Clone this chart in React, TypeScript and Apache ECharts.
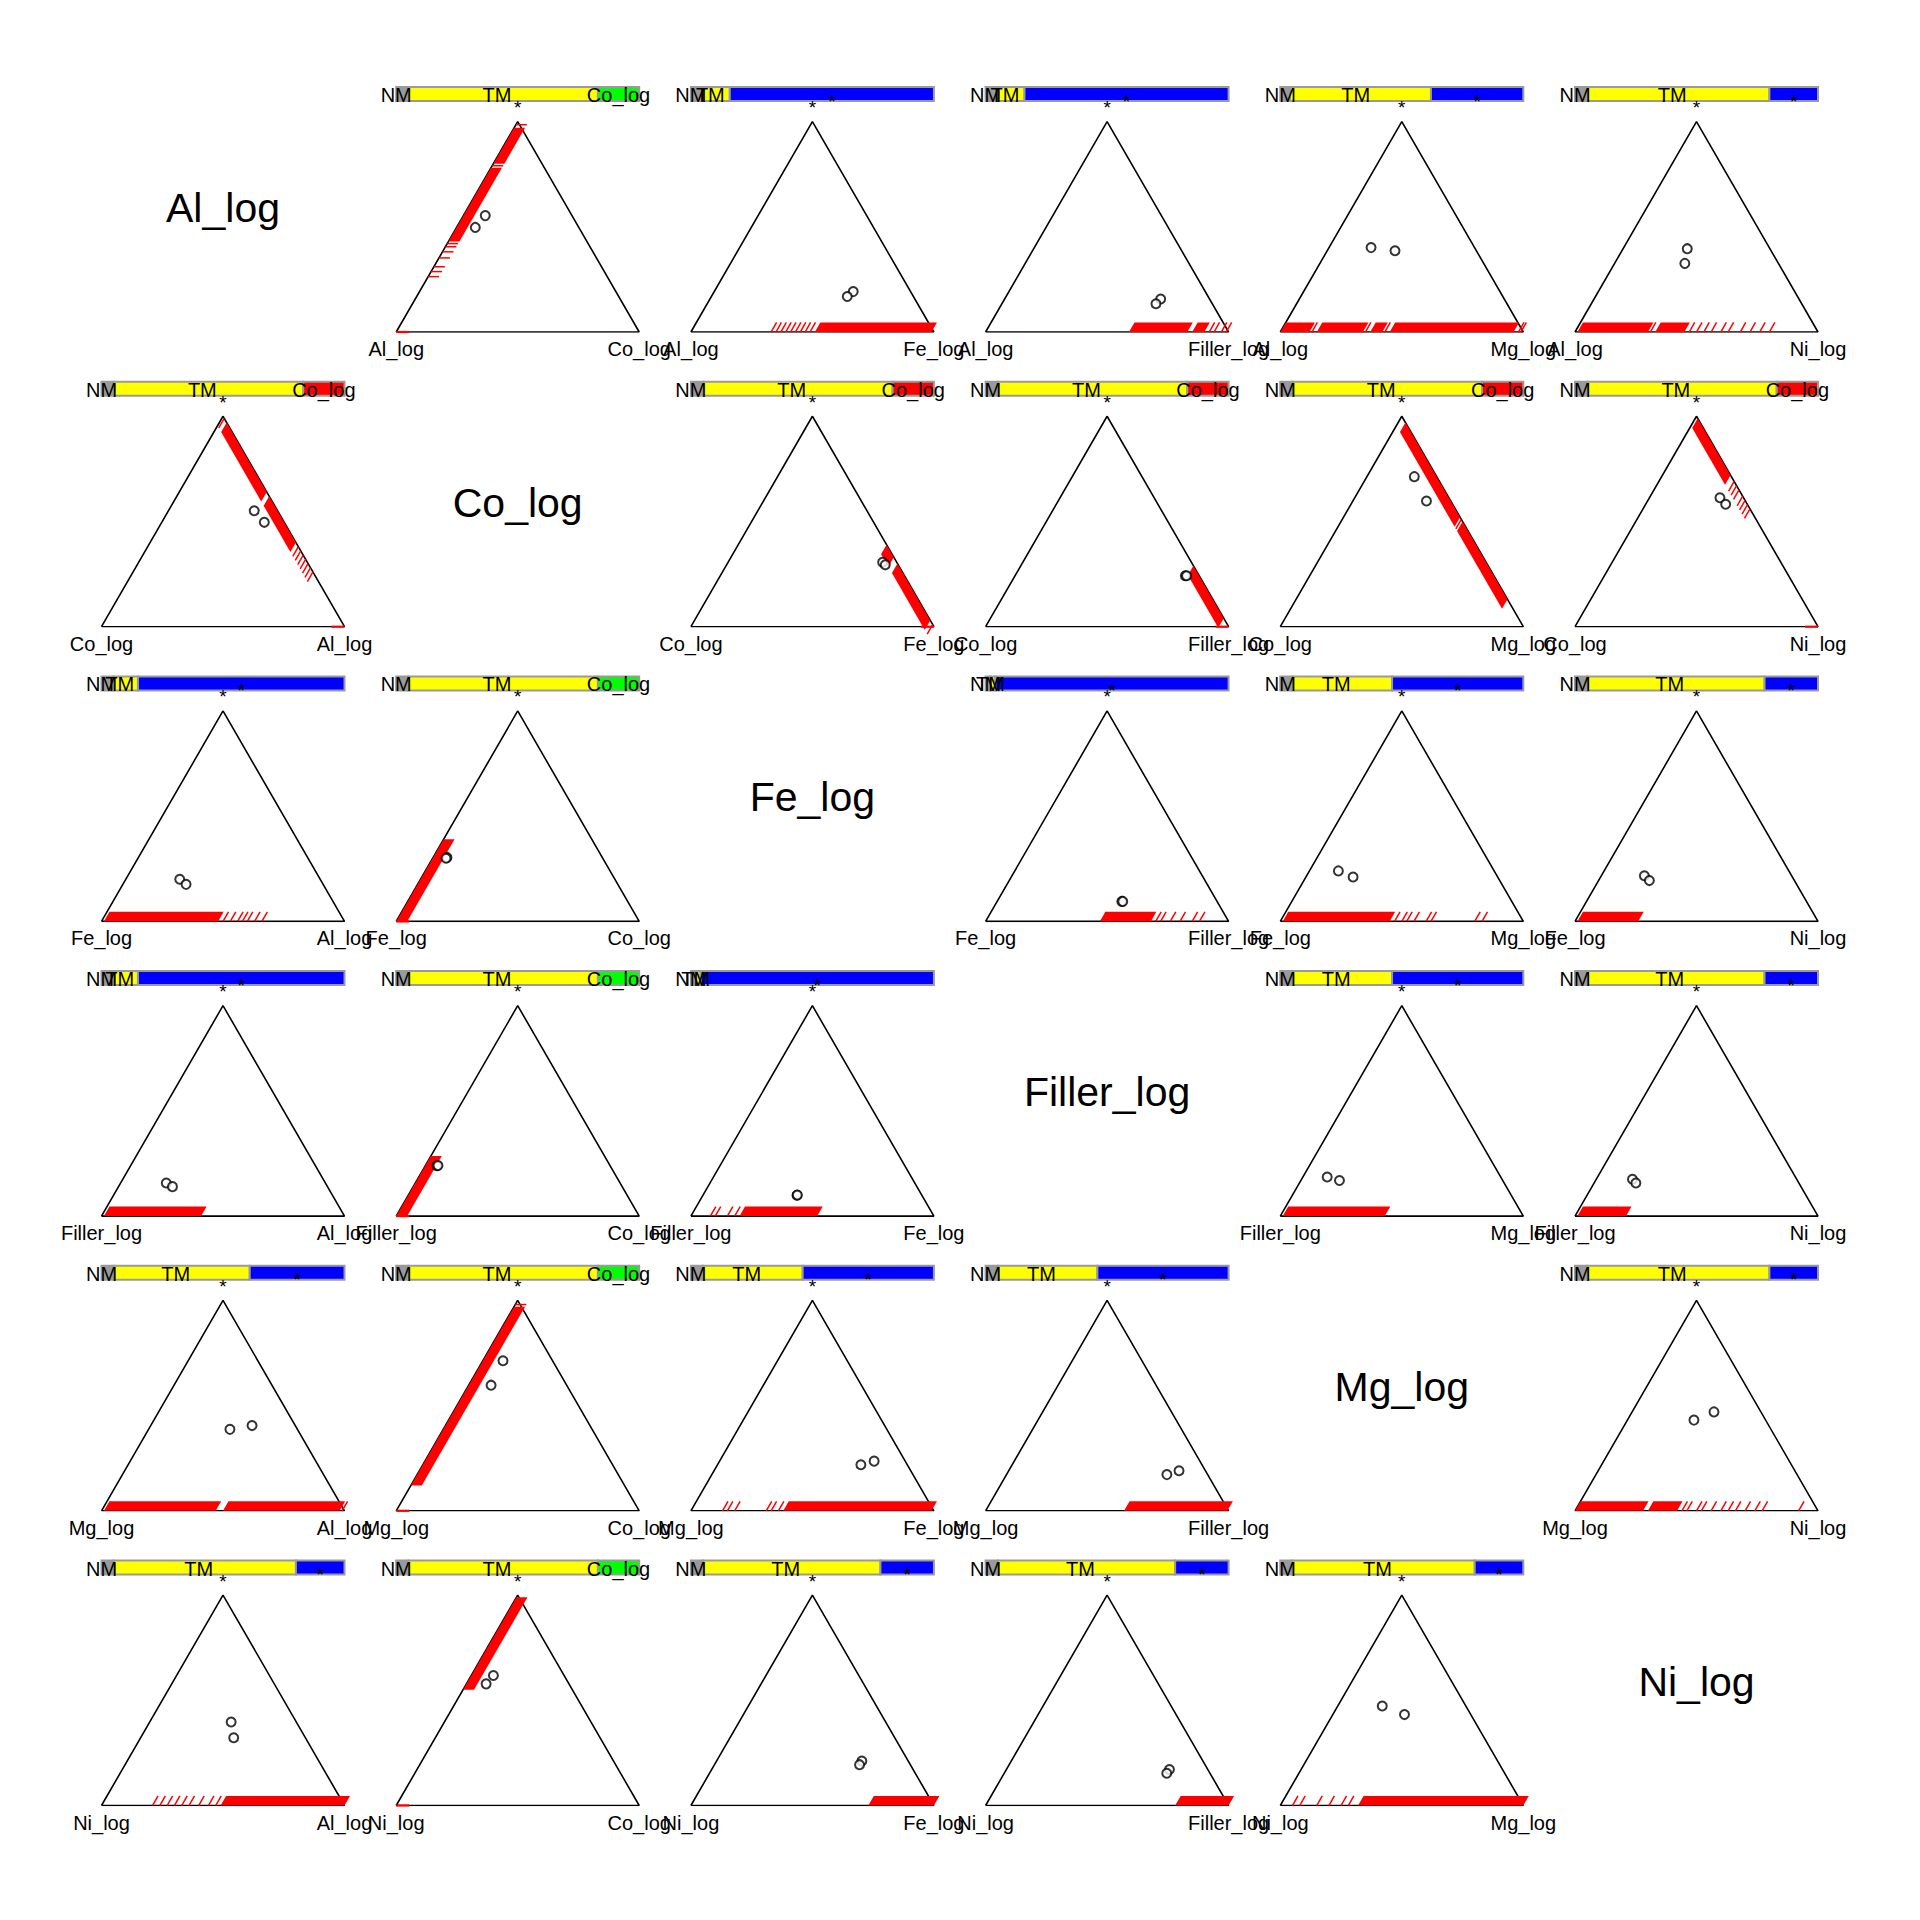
import React, { useEffect, useRef } from "react";
import * as echarts from "echarts";

// ---------------- data ----------------
const VARIABLES = ["Al_log", "Co_log", "Fe_log", "Filler_log", "Mg_log", "Ni_log"];
const BAR_LABELS = ["NM", "TM"];
const MARGIN_LABEL = "*";

// off-diagonal panels, row-major
const PANEL_ROWS = [0, 0, 0, 0, 0, 1, 1, 1, 1, 1, 2, 2, 2, 2, 2, 3, 3, 3, 3, 3, 4, 4, 4, 4, 4, 5, 5, 5, 5, 5];
const PANEL_COLS = [1, 2, 3, 4, 5, 0, 2, 3, 4, 5, 0, 1, 3, 4, 5, 0, 1, 2, 4, 5, 0, 1, 2, 3, 5, 0, 1, 2, 3, 4];

// two observations per panel, as (left part, right part, margin *) compositions
const circleComps = [
  [[0.357, 0.09, 0.553], [0.426, 0.077, 0.497]],
  [[0.236, 0.572, 0.192], [0.272, 0.559, 0.169]],
  [[0.201, 0.642, 0.157], [0.232, 0.634, 0.134]],
  [[0.426, 0.173, 0.401], [0.335, 0.279, 0.386]],
  [[0.34, 0.264, 0.396], [0.385, 0.289, 0.326]],
  [[0.096, 0.353, 0.551], [0.082, 0.422, 0.496]],
  [[0.058, 0.636, 0.306], [0.053, 0.653, 0.294]],
  [[0.057, 0.701, 0.242], [0.052, 0.706, 0.242]],
  [[0.092, 0.195, 0.713], [0.096, 0.303, 0.597]],
  [[0.097, 0.29, 0.613], [0.091, 0.329, 0.582]],
  [[0.578, 0.222, 0.2], [0.564, 0.26, 0.176]],
  [[0.639, 0.057, 0.304], [0.645, 0.055, 0.3]],
  [[0.392, 0.513, 0.095], [0.388, 0.517, 0.095]],
  [[0.641, 0.119, 0.24], [0.595, 0.194, 0.211]],
  [[0.606, 0.177, 0.217], [0.597, 0.209, 0.194]],
  [[0.655, 0.188, 0.157], [0.638, 0.222, 0.14]],
  [[0.713, 0.048, 0.239], [0.708, 0.052, 0.24]],
  [[0.514, 0.387, 0.099], [0.512, 0.388, 0.1]],
  [[0.714, 0.1, 0.186], [0.672, 0.159, 0.169]],
  [[0.676, 0.149, 0.175], [0.671, 0.172, 0.157]],
  [[0.278, 0.335, 0.387], [0.178, 0.417, 0.405]],
  [[0.204, 0.083, 0.713], [0.311, 0.092, 0.597]],
  [[0.191, 0.59, 0.219], [0.128, 0.636, 0.236]],
  [[0.168, 0.66, 0.172], [0.109, 0.701, 0.19]],
  [[0.295, 0.274, 0.431], [0.193, 0.337, 0.47]],
  [[0.268, 0.335, 0.397], [0.295, 0.383, 0.322]],
  [[0.291, 0.091, 0.618], [0.341, 0.081, 0.578]],
  [[0.191, 0.598, 0.211], [0.209, 0.597, 0.194]],
  [[0.158, 0.671, 0.171], [0.178, 0.669, 0.153]],
  [[0.344, 0.183, 0.473], [0.305, 0.295, 0.432]],
];

// edge carrying the zero-part observations: b = base, l = left edge, r = right edge
const rugEdge = ["l", "b", "b", "b", "b", "r", "r", "r", "r", "r", "b", "l", "b", "b", "b", "b", "l", "b", "b", "b", "b", "l", "b", "b", "b", "b", "l", "b", "b", "b"];
// dense runs of marks (fraction along the edge)
const rugBands = [
  [[0.43, 0.78], [0.8, 0.97]],
  [[0.51, 0.99]],
  [[0.59, 0.83], [0.85, 0.9]],
  [[0.0, 0.12], [0.15, 0.34], [0.37, 0.42], [0.45, 0.96]],
  [[0.01, 0.3], [0.33, 0.45]],
  [[0.4, 0.62], [0.64, 0.97]],
  [[0.03, 0.3], [0.33, 0.39]],
  [[0.04, 0.29]],
  [[0.13, 0.5], [0.52, 0.97]],
  [[0.72, 0.99]],
  [[0.01, 0.48]],
  [[0.0, 0.39]],
  [[0.47, 0.68]],
  [[0.01, 0.45]],
  [[0.01, 0.26]],
  [[0.01, 0.41]],
  [[0.0, 0.285]],
  [[0.2, 0.52]],
  [[0.01, 0.43]],
  [[0.01, 0.21]],
  [[0.01, 0.47], [0.5, 0.98]],
  [[0.12, 0.97]],
  [[0.38, 0.99]],
  [[0.57, 0.995]],
  [[0.0, 0.28], [0.3, 0.42]],
  [[0.49, 1.0]],
  [[0.55, 0.99]],
  [[0.73, 1.0]],
  [[0.78, 1.0]],
  [[0.32, 1.0]],
];
// isolated marks (fraction along the edge)
const rugTicks = [
  [0.263, 0.287, 0.31, 0.352, 0.381, 0.405, 0.42, 0.79, 0.985],
  [0.33, 0.35, 0.37, 0.39, 0.41, 0.43, 0.45, 0.47, 0.49],
  [0.92, 0.94, 0.97, 0.99],
  [0.13, 0.35, 0.43, 0.98, 0.99],
  [0.31, 0.47, 0.5, 0.53, 0.56, 0.6, 0.63, 0.68, 0.72, 0.76, 0.8],
  [0.26, 0.28, 0.3, 0.32, 0.34, 0.36, 0.38, 0.99],
  [0.01],
  [],
  [0.51],
  [0.56, 0.58, 0.6, 0.62, 0.65, 0.67, 0.69],
  [0.5, 0.53, 0.56, 0.58, 0.6, 0.63, 0.66],
  [],
  [0.7, 0.72, 0.76, 0.8, 0.85, 0.88],
  [0.47, 0.5, 0.52, 0.55, 0.6, 0.62, 0.8, 0.83],
  [],
  [],
  [],
  [0.08, 0.1, 0.15, 0.18],
  [],
  [],
  [0.99],
  [0.98],
  [0.13, 0.15, 0.18, 0.31, 0.33, 0.36],
  [],
  [0.44, 0.46, 0.5, 0.52, 0.56, 0.6, 0.63, 0.66, 0.7, 0.74, 0.77, 0.92],
  [0.21, 0.24, 0.27, 0.3, 0.33, 0.36, 0.4, 0.44, 0.47],
  [],
  [],
  [],
  [0.05, 0.08, 0.15, 0.2, 0.25, 0.28],
];
// observations sitting on a vertex: 0 = left vertex, 1 = right vertex, -1 = none
const rugVertex = [0, -1, -1, -1, -1, 1, 1, 1, -1, 1, -1, 0, -1, -1, -1, -1, 0, -1, -1, -1, -1, 0, -1, -1, -1, -1, 0, -1, -1, -1];

// missingness bar: end of NM part, end of TM part (the rest is the third part)
const barNMEnd = [0.05, 0.05, 0.05, 0.04, 0.05, 0.05, 0.05, 0.05, 0.05, 0.05, 0.05, 0.05, 0.02, 0.05, 0.05, 0.05, 0.05, 0.02, 0.05, 0.05, 0.05, 0.05, 0.05, 0.05, 0.05, 0.05, 0.05, 0.05, 0.05, 0.05];
const barTMEnd = [0.83, 0.16, 0.16, 0.62, 0.8, 0.83, 0.83, 0.83, 0.83, 0.83, 0.15, 0.83, 0.04, 0.46, 0.78, 0.15, 0.83, 0.04, 0.46, 0.78, 0.61, 0.83, 0.46, 0.46, 0.8, 0.8, 0.83, 0.78, 0.78, 0.8];

// ---------------- layout / style ----------------
const X0 = 101.5;
const Y0 = 332;
const PITCH = 294.7;
const TW = 243;
const S = Math.sqrt(3) / 2;
const TH = TW * S;
const MARK = 11;
const VMARK = 13;
const FONT = "Liberation Sans, Arial, Helvetica, sans-serif";
const GRAY = "#9a9a9a";
const COLORS = { nm: GRAY, tm: "#ffff00", green: "#00ff00", red: "#ff0000", blue: "#0000ff" };

function text(x: number, y: number, s: string, size: number, align = "center") {
  return {
    type: "text",
    x,
    y,
    silent: true,
    z: 100,
    style: {
      text: s,
      font: `${size}px ${FONT}`,
      fill: "#000",
      textAlign: align,
      textVerticalAlign: "middle",
      align,
      verticalAlign: "middle",
    },
  };
}

function buildOption() {
  const grid: any[] = [];
  const xAxis: any[] = [];
  const yAxis: any[] = [];
  const series: any[] = [];
  const graphic: any[] = [];

  const addGrid = (left: number, top: number, width: number, height: number, ymax: number) => {
    const i = grid.length;
    grid.push({ left, top, width, height, containLabel: false, show: false });
    xAxis.push({ type: "value", gridIndex: i, min: 0, max: 1, show: false });
    yAxis.push({ type: "value", gridIndex: i, min: 0, max: ymax, show: false });
    return i;
  };

  // diagonal titles
  for (let k = 0; k < VARIABLES.length; k++) {
    const cx = X0 + k * PITCH + TW / 2;
    const cy = Y0 + k * PITCH - 124;
    graphic.push(text(cx, cy, VARIABLES[k], 41));
  }

  for (let p = 0; p < PANEL_ROWS.length; p++) {
    const r = PANEL_ROWS[p];
    const c = PANEL_COLS[p];
    const lx = X0 + c * PITCH;
    const by = Y0 + r * PITCH;

    // ---- ternary triangle ----
    const g = addGrid(lx, by - TH, TW, TH, S);
    series.push({
      type: "line",
      xAxisIndex: g,
      yAxisIndex: g,
      data: [[0, 0], [1, 0], [0.5, S], [0, 0]],
      showSymbol: false,
      symbol: "none",
      lineStyle: { color: "#000", width: 1.6 },
      silent: true,
      z: 2,
    });

    const edge = rugEdge[p];
    const rugData: number[][] = [];
    rugBands[p].forEach((b) => rugData.push([1, b[0], b[1]]));
    rugTicks[p].forEach((t) => rugData.push([0, t, t]));
    if (rugVertex[p] >= 0) rugData.push([2, rugVertex[p], rugVertex[p]]);
    series.push({
      type: "custom",
      xAxisIndex: g,
      yAxisIndex: g,
      silent: true,
      z: 3,
      clip: false,
      data: rugData,
      renderItem: (_params: any, api: any) => {
        const kind = api.value(0);
        const t0 = api.value(1);
        const t1 = api.value(2);
        const pt = (t: number) => {
          if (edge === "b") return api.coord([t, 0]);
          if (edge === "l") return api.coord([t * 0.5, t * S]);
          return api.coord([1 - t * 0.5, t * S]);
        };
        const d =
          edge === "b" ? [MARK * 0.5, -MARK * S] : edge === "l" ? [MARK, 0] : [-MARK * 0.5, MARK * S];
        if (kind === 2) {
          const v = api.coord([t0, 0]);
          const dir = t0 < 0.5 ? 1 : -1;
          return {
            type: "line",
            shape: { x1: v[0], y1: v[1], x2: v[0] + dir * VMARK, y2: v[1] },
            style: { stroke: COLORS.red, lineWidth: 2.2 },
          };
        }
        const a = pt(t0);
        if (kind === 0) {
          return {
            type: "line",
            shape: { x1: a[0], y1: a[1], x2: a[0] + d[0], y2: a[1] + d[1] },
            style: { stroke: COLORS.red, lineWidth: 1.5 },
          };
        }
        const b = pt(t1);
        return {
          type: "polygon",
          shape: { points: [a, b, [b[0] + d[0], b[1] + d[1]], [a[0] + d[0], a[1] + d[1]]] },
          style: { fill: COLORS.red },
        };
      },
    });

    series.push({
      type: "scatter",
      xAxisIndex: g,
      yAxisIndex: g,
      silent: true,
      z: 4,
      symbol: "emptyCircle",
      symbolSize: 9,
      itemStyle: { color: "#000", borderColor: "#000", borderWidth: 1.6 },
      data: circleComps[p].map((q) => [q[1] + q[2] / 2, q[2] * S]),
    });

    // vertex labels
    graphic.push(text(lx, by + 17, VARIABLES[r], 20));
    graphic.push(text(lx + TW, by + 17, VARIABLES[c], 20));
    graphic.push(text(lx + TW / 2, by - TH - 14, MARGIN_LABEL, 19));

    // ---- missingness bar ----
    const third = c === 1 ? "green" : r === 1 ? "red" : "blue";
    const bg = addGrid(lx, by - 245, TW, 14, 1);
    const segs = [
      [0, barNMEnd[p], 0],
      [barNMEnd[p], barTMEnd[p], 1],
      [barTMEnd[p], 1, 2],
    ];
    const segColors = [COLORS.nm, COLORS.tm, (COLORS as any)[third]];
    series.push({
      type: "custom",
      xAxisIndex: bg,
      yAxisIndex: bg,
      silent: true,
      z: 2,
      clip: false,
      data: segs,
      renderItem: (_params: any, api: any) => {
        const a = api.coord([api.value(0), 1]);
        const b = api.coord([api.value(1), 0]);
        return {
          type: "rect",
          shape: { x: a[0], y: a[1], width: b[0] - a[0], height: b[1] - a[1] },
          style: { fill: segColors[api.value(2)], stroke: GRAY, lineWidth: 2 },
        };
      },
    });
    const barY = by - 237;
    graphic.push(text(lx, barY, BAR_LABELS[0], 20));
    graphic.push(text(lx + (barTMEnd[p] * TW) / 2, barY, BAR_LABELS[1], 20));
    const thirdCenter = lx + ((barTMEnd[p] + 1) / 2) * TW;
    if (third === "blue") {
      graphic.push(text(thirdCenter, by - 231, MARGIN_LABEL, 19));
    } else {
      graphic.push(text(thirdCenter, barY, VARIABLES[1], 20));
    }
  }

  return {
    animation: false,
    backgroundColor: "#ffffff",
    grid,
    xAxis,
    yAxis,
    series,
    graphic: { elements: graphic },
  };
}

export default function App() {
  const ref = useRef<HTMLDivElement>(null);
  useEffect(() => {
    if (!ref.current) return;
    const chart = echarts.init(ref.current, undefined, { renderer: "svg" });
    chart.setOption(buildOption() as any);
    return () => chart.dispose();
  }, []);
  return (
    <div
      ref={ref}
      style={{ position: "absolute", left: 0, top: 0, width: 1920, height: 1920, background: "#fff" }}
    />
  );
}
